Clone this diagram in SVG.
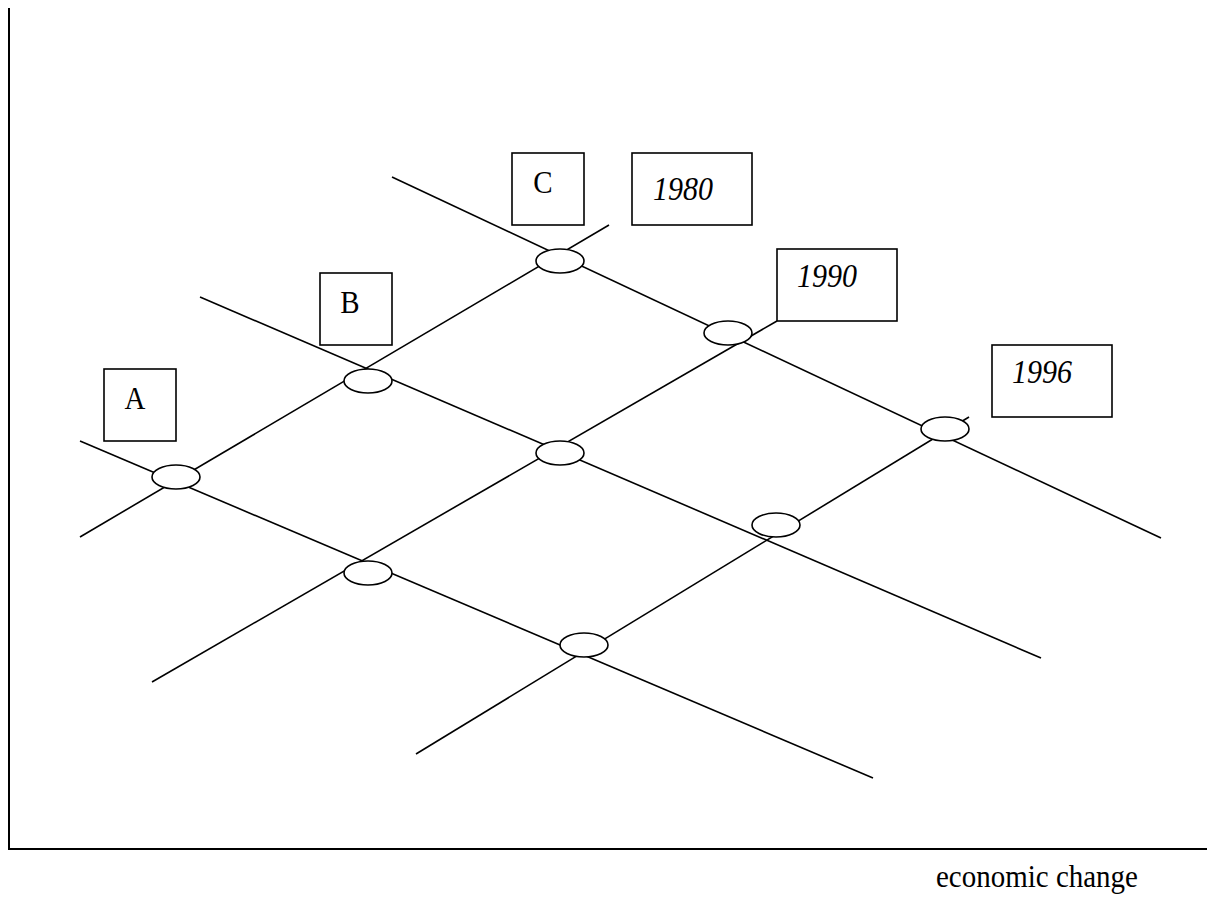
<svg xmlns="http://www.w3.org/2000/svg" width="1207" height="899" viewBox="0 0 1207 899">
<style>
.ln{stroke:#000;stroke-width:1.6;fill:none}
.ax{stroke:#000;stroke-width:2;fill:none}
.box{stroke:#000;stroke-width:1.6;fill:#fff}
.nd{stroke:#000;stroke-width:1.6;fill:#fff}
.t{font-family:"Liberation Serif","Times New Roman",serif;font-size:29px;fill:#000}
.i{font-style:italic;font-size:30px}
</style>
<rect width="1207" height="899" fill="#fff"/>
<g id="axes">
<line class="ax" x1="9" y1="8" x2="9" y2="850"/>
<line class="ax" x1="8" y1="849" x2="1207" y2="849"/>
<text class="t" transform="translate(936,887) scale(1,1.12)">economic change</text>
</g>
<g id="connectors">
<line class="ln" x1="392" y1="177" x2="1161" y2="538"/>
<line class="ln" x1="200" y1="297" x2="1041" y2="658"/>
<line class="ln" x1="80" y1="441" x2="873" y2="778"/>
<line class="ln" x1="80" y1="537" x2="609" y2="225"/>
<line class="ln" x1="152" y1="682" x2="777" y2="321"/>
<line class="ln" x1="416" y1="754" x2="969" y2="417"/>
</g>
<g id="node-A"><ellipse class="nd" cx="176" cy="477" rx="24" ry="12"/></g>
<g id="node-B"><ellipse class="nd" cx="368" cy="381" rx="24" ry="12"/></g>
<g id="node-C"><ellipse class="nd" cx="560" cy="261" rx="24" ry="12"/></g>
<g id="node-1990"><ellipse class="nd" cx="728" cy="333" rx="24" ry="12"/></g>
<g id="node-1996"><ellipse class="nd" cx="945" cy="429" rx="24" ry="12"/></g>
<g id="node-mid"><ellipse class="nd" cx="560" cy="453" rx="24" ry="12"/></g>
<g id="node-r2"><ellipse class="nd" cx="776" cy="525" rx="24" ry="12"/></g>
<g id="node-l3"><ellipse class="nd" cx="368" cy="573" rx="24" ry="12"/></g>
<g id="node-b3"><ellipse class="nd" cx="584" cy="645" rx="24" ry="12"/></g>
<g id="label-A"><rect class="box" x="104" y="369" width="72" height="72"/><text class="t" text-anchor="middle" transform="translate(135,409) scale(1,1.12)">A</text></g>
<g id="label-B"><rect class="box" x="320" y="273" width="72" height="72"/><text class="t" text-anchor="middle" transform="translate(350,313) scale(1,1.12)">B</text></g>
<g id="label-C"><rect class="box" x="512" y="153" width="72" height="72"/><text class="t" text-anchor="middle" transform="translate(543,193) scale(1,1.12)">C</text></g>
<g id="label-1980"><rect class="box" x="632" y="153" width="120" height="72"/><text class="t i" transform="translate(653,200) scale(1,1.12)">1980</text></g>
<g id="label-1990"><rect class="box" x="777" y="249" width="120" height="72"/><text class="t i" transform="translate(797,287) scale(1,1.12)">1990</text></g>
<g id="label-1996"><rect class="box" x="992" y="345" width="120" height="72"/><text class="t i" transform="translate(1012,383) scale(1,1.12)">1996</text></g>
</svg>
